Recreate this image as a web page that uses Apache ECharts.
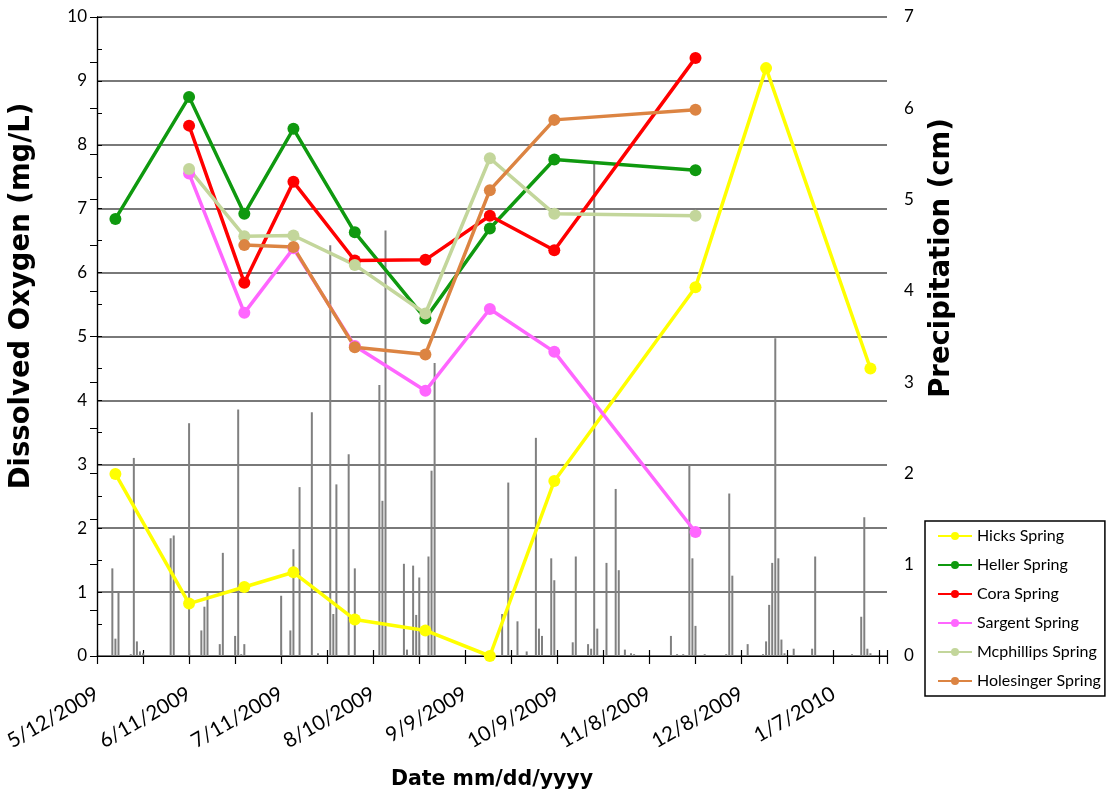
<!DOCTYPE html>
<html>
<head>
<meta charset="utf-8">
<script src="https://cdn.jsdelivr.net/npm/echarts@6/dist/echarts.min.js"></script>
<style>
  html, body { margin: 0; padding: 0; background: #ffffff; }
  #chart { width: 1107px; height: 795px; }
</style>
</head>
<body>
<div id="chart"></div>
<script>
// Date axis starts on 5/12/2009; ticks every 15 days, a date label every 30
const axisStart = '5/12/2009';
const axisSpanDays = 257.4;
const tickDays = 15;
const labelDays = 30;
const lastLabelDay = 240;

// Field sampling dates (dissolved oxygen, mg/L)
const samplingDates = ['5/18/2009', '6/11/2009', '6/29/2009', '7/15/2009', '8/4/2009',
  '8/27/2009', '9/17/2009', '10/8/2009', '11/23/2009', '12/16/2009', '1/19/2010'];
const hicksSpring      = [2.85, 0.82, 1.08, 1.31, 0.57, 0.40, 0.00, 2.74, 5.77, 9.20, 4.50];
const hellerSpring     = [6.84, 8.75, 6.92, 8.25, 6.63, 5.28, 6.69, 7.77, 7.60, null, null];
const coraSpring       = [null, 8.30, 5.84, 7.42, 6.19, 6.20, 6.89, 6.35, 9.36, null, null];
const sargentSpring    = [null, 7.55, 5.37, 6.38, 4.85, 4.15, 5.43, 4.76, 1.94, null, null];
const mcphillipsSpring = [null, 7.62, 6.57, 6.58, 6.12, 5.36, 7.79, 6.92, 6.89, null, null];
const holesingerSpring = [null, null, 6.43, 6.40, 4.83, 4.72, 7.29, 8.39, 8.55, null, null];

// Daily precipitation (cm)
const precipDates = [
  '5/17/2009', '5/18/2009', '5/19/2009', '5/23/2009', '5/24/2009', '5/25/2009', '5/26/2009', '5/27/2009',
  '6/5/2009', '6/6/2009', '6/11/2009', '6/15/2009', '6/16/2009', '6/17/2009', '6/21/2009', '6/22/2009',
  '6/26/2009', '6/27/2009', '6/28/2009', '6/29/2009',
  '7/11/2009', '7/14/2009', '7/15/2009', '7/17/2009', '7/21/2009', '7/23/2009', '7/27/2009', '7/28/2009',
  '7/29/2009', '8/2/2009', '8/4/2009',
  '8/12/2009', '8/13/2009', '8/14/2009', '8/20/2009', '8/21/2009', '8/23/2009', '8/24/2009', '8/25/2009',
  '8/28/2009', '8/29/2009', '8/30/2009',
  '9/21/2009', '9/23/2009', '9/26/2009', '9/29/2009', '10/2/2009', '10/3/2009', '10/4/2009', '10/7/2009',
  '10/8/2009',
  '10/14/2009', '10/15/2009', '10/19/2009', '10/20/2009', '10/21/2009', '10/22/2009', '10/25/2009',
  '10/28/2009', '10/29/2009', '10/31/2009', '11/2/2009', '11/3/2009',
  '11/15/2009', '11/17/2009', '11/19/2009', '11/21/2009', '11/22/2009', '11/23/2009', '11/26/2009',
  '12/3/2009', '12/4/2009', '12/5/2009', '12/10/2009', '12/15/2009', '12/16/2009', '12/17/2009',
  '12/18/2009', '12/19/2009', '12/20/2009', '12/21/2009', '12/22/2009', '12/25/2009',
  '12/31/2009', '1/1/2010', '1/13/2010', '1/16/2010', '1/17/2010', '1/18/2010', '1/19/2010'
];
const precipCm = [
  0.96, 0.19, 0.70, 0.02, 2.17, 0.16, 0.05, 0.03,
  1.29, 1.32, 2.55, 0.28, 0.54, 0.70, 0.13, 1.13,
  0.22, 2.70, 0.02, 0.13,
  0.66, 0.28, 1.17, 1.85, 2.67, 0.03, 4.50, 0.46,
  1.88, 2.21, 0.96,
  2.97, 1.70, 4.66, 1.01, 0.07, 0.99, 0.45, 0.86,
  1.09, 2.03, 3.21,
  0.46, 1.90, 0.38, 0.05, 2.39, 0.30, 0.22, 1.07,
  0.83,
  0.15, 1.09, 0.13, 0.08, 5.40, 0.30, 1.02,
  1.83, 0.94, 0.07, 0.03, 0.02,
  0.22, 0.02, 0.02, 2.09, 1.07, 0.33, 0.02,
  0.02, 1.78, 0.88, 0.13, 0.02, 0.16, 0.56,
  1.02, 3.48, 1.07, 0.18, 0.03, 0.08,
  0.08, 1.09, 0.02, 0.43, 1.52, 0.08, 0.03
];

const DAY_MS = 86400000;
function toUTC(s) {
  const [m, d, y] = s.split('/').map(Number);
  return Date.UTC(y, m - 1, d);
}
const startMs = toUTC(axisStart);
// days elapsed since the start of the axis
function dayOf(s) { return Math.round((toUTC(s) - startMs) / DAY_MS); }
function labelFor(day) {
  const dt = new Date(startMs + day * DAY_MS);
  return (dt.getUTCMonth() + 1) + '/' + dt.getUTCDate() + '/' + dt.getUTCFullYear();
}

const FONT = 'Lato';
const TITLE_FONT = 'DejaVu Sans';
const springSeries = [
  { name: 'Hicks Spring',      values: hicksSpring,      color: '#FFFF00' },
  { name: 'Heller Spring',     values: hellerSpring,     color: '#0F990F' },
  { name: 'Cora Spring',       values: coraSpring,       color: '#FF0000' },
  { name: 'Sargent Spring',    values: sargentSpring,    color: '#FF66FF' },
  { name: 'Mcphillips Spring', values: mcphillipsSpring, color: '#C3D69B' },
  { name: 'Holesinger Spring', values: holesingerSpring, color: '#DC8442' }
];

const series = [{
  name: 'Precipitation',
  type: 'bar',
  xAxisIndex: 0,
  yAxisIndex: 1,
  barWidth: 2,
  itemStyle: { color: '#808080' },
  silent: true,
  data: precipDates.map((d, i) => [dayOf(d), precipCm[i]])
}];
springSeries.forEach(s => {
  series.push({
    name: s.name,
    type: 'line',
    xAxisIndex: 0,
    yAxisIndex: 0,
    symbol: 'circle',
    symbolSize: 12,
    lineStyle: { width: 3.5, color: s.color },
    itemStyle: { color: s.color },
    data: samplingDates.map((d, i) => [dayOf(d), s.values[i]])
  });
});

const dateAxisBase = {
  type: 'value', min: 0, max: axisSpanDays, interval: tickDays,
  position: 'bottom', splitLine: { show: false }
};

const chart = echarts.init(document.getElementById('chart'), null, { renderer: 'canvas' });
chart.setOption({
  animation: false,
  backgroundColor: '#ffffff',
  textStyle: { fontFamily: FONT },
  grid: { left: 97, top: 17, width: 790, height: 646 },
  legend: {
    orient: 'vertical',
    left: 925, top: 521,
    data: springSeries.map(s => s.name),
    itemWidth: 34, itemHeight: 10,
    itemGap: 9,
    padding: [5, 4, 5, 12],
    borderColor: '#000000', borderWidth: 1.5,
    textStyle: { fontFamily: FONT, fontSize: 16, color: '#000000', lineHeight: 20 }
  },
  graphic: [{
    type: 'text', x: 22, y: 296, rotation: Math.PI / 2,
    style: {
      text: 'Dissolved Oxygen (mg/L)', fill: '#000',
      font: 'bold 27.5px "' + TITLE_FONT + '"',
      textAlign: 'center', textVerticalAlign: 'middle'
    }
  }, {
    type: 'text', x: 942, y: 258, rotation: Math.PI / 2,
    style: {
      text: 'Precipitation (cm)', fill: '#000',
      font: 'bold 27.5px "' + TITLE_FONT + '"',
      textAlign: 'center', textVerticalAlign: 'middle'
    }
  }],
  xAxis: [Object.assign({}, dateAxisBase, {
    name: 'Date mm/dd/yyyy',
    nameLocation: 'middle', nameGap: 113,
    nameTextStyle: { fontFamily: TITLE_FONT, fontWeight: 'bold', fontSize: 20.5, color: '#000' },
    axisLine: { lineStyle: { color: '#000', width: 1.2 } },
    axisTick: { length: 8, lineStyle: { color: '#000', width: 1.2 } },
    axisLabel: {
      rotate: 30, fontSize: 20.5, color: '#000', margin: 36,
      formatter: v => (v % labelDays === 0 && v <= lastLabelDay) ? labelFor(v) : ''
    }
  }), Object.assign({}, dateAxisBase, {
    // inner half of the crossing tick marks
    axisLine: { show: false },
    axisTick: { inside: true, length: 6, lineStyle: { color: '#000', width: 1.2 } },
    axisLabel: { show: false }
  })],
  yAxis: [{
    type: 'value', min: 0, max: 10, interval: 1, position: 'left',
    axisLine: { show: true, lineStyle: { color: '#000', width: 1.2 } },
    axisTick: { show: true, inside: true, length: 5, lineStyle: { color: '#000' } },
    minorTick: { show: true, splitNumber: 2, length: 5, lineStyle: { color: '#000' } },
    splitLine: { lineStyle: { color: '#4d4d4d', width: 1.6 } },
    axisLabel: { fontSize: 17, color: '#000', margin: 10 }
  }, {
    type: 'value', min: 0, max: 7, interval: 1, position: 'right',
    axisLine: { show: true, lineStyle: { color: '#000', width: 1.2 } },
    axisTick: { show: true, inside: true, length: 7, lineStyle: { color: '#000' } },
    minorTick: { show: true, splitNumber: 2, length: 7, lineStyle: { color: '#000' } },
    splitLine: { show: false },
    axisLabel: { fontSize: 17, color: '#000', margin: 17 }
  }],
  series: series
});
</script>
</body>
</html>
